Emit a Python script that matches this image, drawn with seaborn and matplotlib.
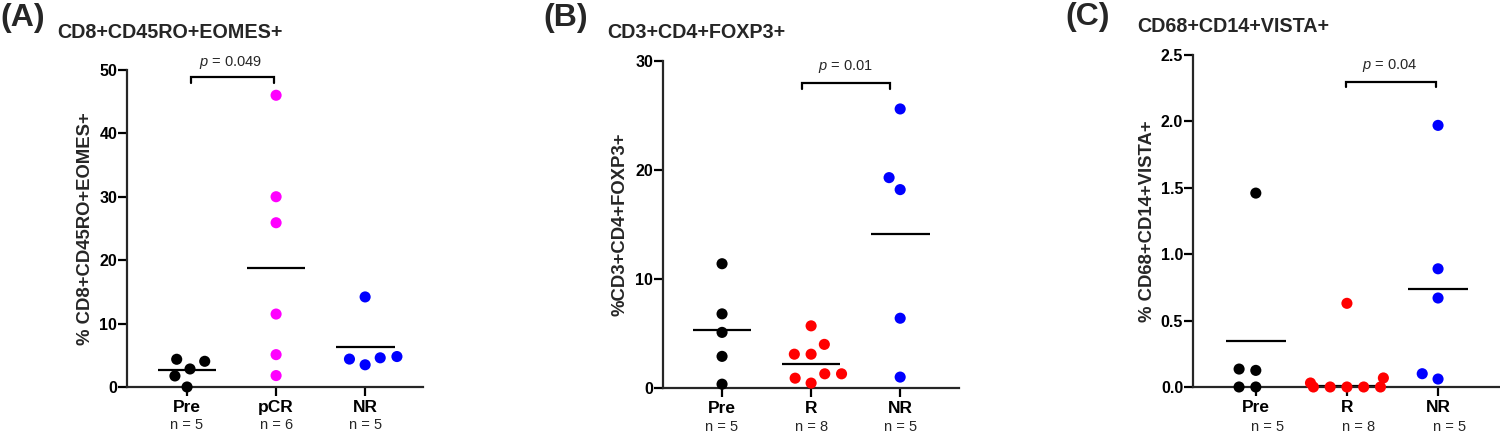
import pandas as pd
import matplotlib
matplotlib.use("Agg")
import matplotlib.pyplot as plt
import matplotlib.transforms as mtransforms
import seaborn as sns
import warnings
warnings.filterwarnings('ignore')

# ---- data ----
a_groups = ["Pre", "pCR", "NR"]
a_pre = [4.05, 4.37, 2.84, 1.74, 0.0]
a_pcr = [46.0, 30.0, 25.9, 11.5, 5.1, 1.8]
a_nr = [3.5, 4.8, 4.4, 4.6, 14.2]
a_means = [2.6, 18.8, 6.3]

b_groups = ["Pre", "R", "NR"]
b_pre = [11.4, 6.8, 5.1, 2.9, 0.35]
b_r = [4.0, 5.7, 3.1, 3.1, 1.3, 0.9, 1.3, 0.45]
b_nr = [25.6, 19.3, 18.2, 6.4, 1.0]
b_means = [5.3, 2.2, 14.1]

c_groups = ["Pre", "R", "NR"]
c_pre = [1.46, 0.135, 0.125, 0.0, 0.0]
c_r = [0.63, 0.068, 0.03, 0.0, 0.0, 0.0, 0.0, 0.0]
c_nr = [1.97, 0.89, 0.67, 0.10, 0.06]
c_means = [0.35, 0.01, 0.74]  # R line sits hidden behind the points

panels = [
    dict(letter="(A)", title="CD8+CD45RO+EOMES+", ylabel="% CD8+CD45RO+EOMES+",
         groups=a_groups, values=[a_pre, a_pcr, a_nr], means=a_means,
         colors=["black", "#ff00ff", "#0000ff"], yticks=[0, 10, 20, 30, 40, 50], fmt="{:.0f}",
         p="0.049", br=(0.04, 0.98, 48.0, 48.9, 0.49, 51.2), nshift=0.0,
         pos=[0.0847, 0.1042, 0.1973, 0.734], xlim=(-0.674, 2.65),
         letter_xy=(0, 18), title_xy=(57, 32), ylab_x=-0.111),
    dict(letter="(B)", title="CD3+CD4+FOXP3+", ylabel="%CD3+CD4+FOXP3+",
         groups=b_groups, values=[b_pre, b_r, b_nr], means=b_means,
         colors=["black", "#ff0000", "#0000ff"], yticks=[0, 10, 20, 30], fmt="{:.0f}",
         p="0.01", br=(0.9, 1.89, 27.4, 28.0, 1.38, 29.5), nshift=0.0,
         pos=[0.442, 0.1019, 0.1973, 0.7569], xlim=(-0.663, 2.66),
         letter_xy=(543, 18), title_xy=(607, 32), ylab_x=-0.115),
    dict(letter="(C)", title="CD68+CD14+VISTA+", ylabel="% CD68+CD14+VISTA+",
         groups=c_groups, values=[c_pre, c_r, c_nr], means=c_means,
         colors=["black", "#ff0000", "#0000ff"], yticks=[0, 0.5, 1.0, 1.5, 2.0, 2.5], fmt="{:.1f}",
         p="0.04", br=(0.99, 1.98, 2.26, 2.30, 1.47, 2.42), nshift=0.13,
         pos=[0.7953, 0.1042, 0.2047, 0.7685], xlim=(-0.69, 2.68),
         letter_xy=(1065, 17), title_xy=(1137, 27), ylab_x=-0.12),
]

sns.set_style("ticks")
plt.rcParams['font.family'] = ['Liberation Sans', 'DejaVu Sans']
plt.rcParams['mathtext.fontset'] = 'custom'
plt.rcParams['mathtext.it'] = 'Liberation Sans:italic'
plt.rcParams['mathtext.rm'] = 'Liberation Sans'

W, H = 1500, 432
fig = plt.figure(figsize=(W / 100, H / 100), dpi=100)

for pnl in panels:
    ax = fig.add_axes(pnl["pos"])
    rows = []
    for g, vals in zip(pnl["groups"], pnl["values"]):
        for v in vals:
            rows.append({"group": g, "value": v})
    df = pd.DataFrame(rows)

    # mean lines under the points
    for i, m in enumerate(pnl["means"]):
        ax.hlines(m, i - 0.33, i + 0.33, color="black", lw=1.6, zorder=1)

    # transparent edge widens the swarm spacing like the original layout
    sns.swarmplot(data=df, x="group", y="value", hue="group", order=pnl["groups"],
                  palette=pnl["colors"], size=8, linewidth=3.5, edgecolor=(1, 1, 1, 0),
                  legend=False, ax=ax, zorder=3, warn_thresh=1)
    for coll in ax.collections:
        coll.set_clip_on(False)

    ax.set_xlim(*pnl["xlim"])
    ax.set_ylim(pnl["yticks"][0], pnl["yticks"][-1])
    ax.set_yticks(pnl["yticks"])
    ax.set_yticklabels([pnl["fmt"].format(t) for t in pnl["yticks"]],
                       fontsize=11.5, fontweight="bold")
    ax.set_xticks(range(3))
    ax.set_xticklabels(pnl["groups"], fontsize=12.5, fontweight="bold")
    ax.set_xlabel("")
    ax.set_ylabel(pnl["ylabel"], fontsize=13.3, fontweight="bold")
    ax.yaxis.set_label_coords(pnl["ylab_x"], 0.5)

    sns.despine(ax=ax)
    for s in ["left", "bottom"]:
        ax.spines[s].set_linewidth(1.6)
    ax.tick_params(axis="both", width=1.6, length=6.5, pad=0.5, colors="black")
    ax.tick_params(axis="x", pad=3)

    # n = ... labels under categories
    trans = mtransforms.blended_transform_factory(ax.transData, ax.transAxes)
    for i, vals in enumerate(pnl["values"]):
        ax.text(i + pnl["nshift"], -0.12, f"n = {len(vals)}", transform=trans,
                ha="center", va="center", fontsize=10.5)

    # significance bracket
    x1, x2, y0, y1, xt, yt = pnl["br"]
    ax.plot([x1, x1, x2, x2], [y0, y1, y1, y0], color="black", lw=1.6,
            clip_on=False, solid_joinstyle="miter")
    ax.text(xt, yt, r"$p$ = " + pnl["p"], ha="center", va="center",
            fontsize=10.5, clip_on=False)

    # panel letter and title
    lx, ly = pnl["letter_xy"]
    fig.text(lx / W, 1 - ly / H, pnl["letter"], fontsize=23, fontweight="bold",
             ha="left", va="center")
    tx, ty = pnl["title_xy"]
    fig.text(tx / W, 1 - ty / H, pnl["title"], fontsize=14.2, fontweight="bold",
             ha="left", va="center")

fig.savefig("out.png", dpi=100)
